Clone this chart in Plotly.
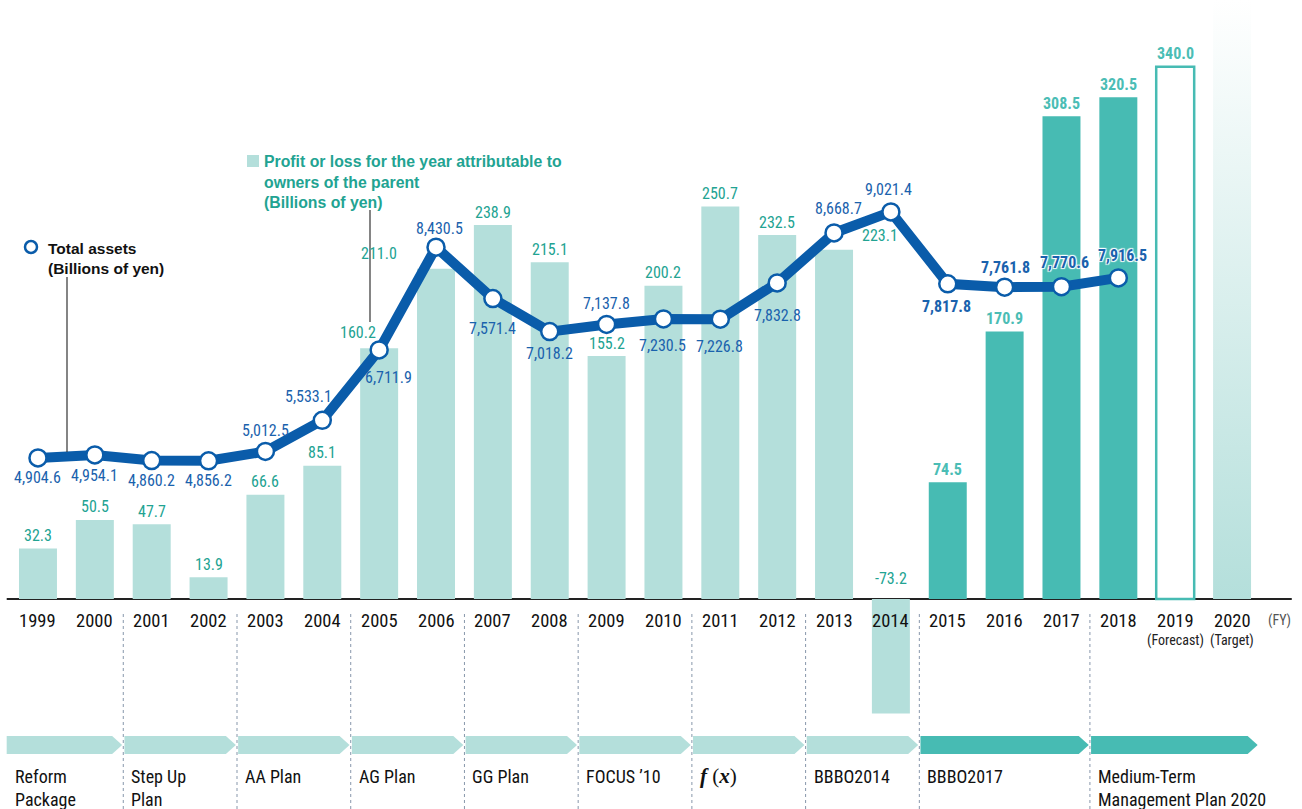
import plotly.graph_objects as go

# ---- data -------------------------------------------------------------
years = ["1999", "2000", "2001", "2002", "2003", "2004", "2005", "2006",
         "2007", "2008", "2009", "2010", "2011", "2012", "2013", "2014",
         "2015", "2016", "2017", "2018", "2019", "2020"]
year_notes = {"2019": "(Forecast)", "2020": "(Target)"}

# Profit or loss attributable to owners of the parent (billions of yen), FY1999-FY2019
profit = [32.3, 50.5, 47.7, 13.9, 66.6, 85.1, 160.2, 211.0, 238.9, 215.1,
          155.2, 200.2, 250.7, 232.5, 223.1, -73.2, 74.5, 170.9, 308.5,
          320.5, 340.0]
profit_labels = ["32.3", "50.5", "47.7", "13.9", "66.6", "85.1", "160.2",
                 "211.0", "238.9", "215.1", "155.2", "200.2", "250.7",
                 "232.5", "223.1", "-73.2", "74.5", "170.9", "308.5",
                 "320.5", "340.0"]

# Total assets (billions of yen), FY1999-FY2018
assets = [4904.6, 4954.1, 4860.2, 4856.2, 5012.5, 5533.1, 6711.9, 8430.5,
          7571.4, 7018.2, 7137.8, 7230.5, 7226.8, 7832.8, 8668.7, 9021.4,
          7817.8, 7761.8, 7770.6, 7916.5]
assets_labels = ["4,904.6", "4,954.1", "4,860.2", "4,856.2", "5,012.5",
                 "5,533.1", "6,711.9", "8,430.5", "7,571.4", "7,018.2",
                 "7,137.8", "7,230.5", "7,226.8", "7,832.8", "8,668.7",
                 "9,021.4", "7,817.8", "7,761.8", "7,770.6", "7,916.5"]

# Management plans: name, first and last fiscal year index covered
plans = ["Reform<br>Package", "Step Up<br>Plan", "AA Plan", "AG Plan",
         "GG Plan", "FOCUS \u201910",
         "<b><i>f</i></b> (<b><i>x</i></b>)",
         "BBBO2014", "BBBO2017", "Medium-Term<br>Management Plan 2020"]
plan_start = [0, 2, 4, 6, 8, 10, 12, 14, 16, 19]
plan_end = [1, 3, 5, 7, 9, 11, 13, 15, 18, 21]

# ---- styles -----------------------------------------------------------
LIGHT = "#b4dfdb"
DARK = "#47bbb3"
LABEL_LIGHT = "#22a392"
LABEL_DARK = "#4bbdb5"
BLUE = "#0a5caa"
BLUE_TXT = "#1a62ad"
COND = "Roboto Condensed, DejaVu Sans Condensed, Liberation Sans Narrow, Arial Narrow, sans-serif"
BOLD = "Liberation Sans, Arial, Helvetica, sans-serif"
SERIF = "Liberation Serif, DejaVu Serif, serif"
BAR_W = 0.668

n_dark_from = years.index("2015")
forecast_i = years.index("2019")
target_i = years.index("2020")

# label offsets in pixels (dx, dy) for each series
profit_off = [(0, 13)] * len(profit)
profit_off[6] = (-21, 16)
profit_off[7] = (-57, 15)
profit_off[14] = (46, 14)
assets_off = [(0, -20), (0, -21), (0, -20), (0, -20), (0, 21), (-14, 24),
              (9, -28), (3, 19), (0, -30), (0, -22), (0, 21), (-1, -27),
              (-1, -27), (0, -33), (4, 24), (-2, 22), (-1, -23), (1, 20),
              (3, 24), (4, 22)]

fig = go.Figure()

# ---- bars -------------------------------------------------------------
xs = list(range(len(profit)))
fill_cols, line_cols = [], []
for i in xs:
    if i == forecast_i:
        fill_cols.append("#ffffff")
        line_cols.append(DARK)
    elif i >= n_dark_from:
        fill_cols.append(DARK)
        line_cols.append(DARK)
    else:
        fill_cols.append(LIGHT)
        line_cols.append(LIGHT)
line_w = [2.5 if i == forecast_i else 0 for i in xs]

fig.add_trace(go.Bar(
    x=xs, y=profit, width=BAR_W,
    marker=dict(color=fill_cols, line=dict(color=line_cols, width=line_w)),
    hoverinfo="skip",
))

# target column drawn as a vertical fade up to the top of the chart
Y1_RANGE = [-134.2, 382.7]
tx0, tx1 = target_i - BAR_W / 2, target_i + BAR_W / 2
fig.add_trace(go.Scatter(
    x=[tx0, tx1, tx1, tx0, tx0],
    y=[0, 0, Y1_RANGE[1], Y1_RANGE[1], 0],
    mode="lines", line=dict(width=0), fill="toself",
    fillgradient=dict(type="vertical",
                      colorscale=[[0, LIGHT], [1, "#ffffff"]]),
    hoverinfo="skip",
))

# ---- total assets line -----------------------------------------------
fig.add_trace(go.Scatter(
    x=list(range(len(assets))), y=assets, yaxis="y2",
    mode="lines+markers",
    line=dict(color=BLUE, width=10),
    marker=dict(size=17, color="#ffffff", line=dict(color=BLUE, width=2.5)),
    hoverinfo="skip",
))

ann = []
# bar value labels
for i, (v, t) in enumerate(zip(profit, profit_labels)):
    dx, dy = profit_off[i]
    dark = i >= n_dark_from
    y = v if v > 0 else 0
    if v < 0:
        dy = 20
    ann.append(dict(
        x=i, y=y, xref="x", yref="y", text=("<b>%s</b>" % t) if dark else t,
        showarrow=False, xshift=dx, yshift=dy,
        font=dict(family=COND, size=16,
                  color=LABEL_DARK if dark else LABEL_LIGHT)))

# total assets labels
HALO = "1px 1px 1px #fff, -1px -1px 1px #fff, 1px -1px 1px #fff, -1px 1px 1px #fff"
for i, (v, t) in enumerate(zip(assets, assets_labels)):
    dx, dy = assets_off[i]
    bold = i >= n_dark_from
    ann.append(dict(
        x=i, y=v, xref="x", yref="y2", text=("<b>%s</b>" % t) if bold else t,
        showarrow=False, xshift=dx, yshift=dy,
        font=dict(family=COND, size=16, color=BLUE_TXT,
                  shadow=HALO if i >= 17 else "none")))

# year labels under the axis
for i, yr in enumerate(years):
    ann.append(dict(x=i, y=0, xref="x", yref="y", text=yr, showarrow=False,
                    yshift=-22, font=dict(family=COND, size=18.5, color="#111")))
    if yr in year_notes:
        ann.append(dict(x=i, y=0, xref="x", yref="y", text=year_notes[yr],
                        showarrow=False, yshift=-42,
                        font=dict(family=COND, size=14, color="#222")))
ann.append(dict(x=len(years) - 0.4, y=0, xref="x", yref="y", text="(FY)",
                showarrow=False, yshift=-22, xanchor="left",
                font=dict(family=COND, size=14, color="#555")))

# legend texts
ann.append(dict(x=46 / 1302, y=1 - 238 / 809, xref="paper", yref="paper",
                xanchor="left", yanchor="top", align="left", showarrow=False,
                text="<b>Total assets<br>(Billions of yen)</b>",
                font=dict(family=BOLD, size=15.5, color="#111")))
ann.append(dict(x=262 / 1302, y=1 - 151 / 809, xref="paper", yref="paper",
                xanchor="left", yanchor="top", align="left", showarrow=False,
                text="<b>Profit or loss for the year attributable to<br>owners of the parent<br>(Billions of yen)</b>",
                font=dict(family=BOLD, size=15.8, color=LABEL_LIGHT)))

# plan names
for name, s in zip(plans, plan_start):
    x0 = -0.55 if s == 0 else s - 0.5
    serif = "<i>" in name
    ann.append(dict(x=x0, y=1 - (762 if serif else 764) / 809, xref="x",
                    yref="paper", xanchor="left", yanchor="top", align="left",
                    xshift=6, showarrow=False, text=name,
                    font=dict(family=SERIF if serif else COND,
                              size=21 if serif else 18, color="#111")))

shapes = []
# baseline
shapes.append(dict(type="line", xref="x", yref="y", x0=-0.55, x1=22.05,
                   y0=0, y1=0, line=dict(color="#222", width=2), layer="below"))

# plan separators and arrows
AR_TOP, AR_BOT = 1 - 736 / 809, 1 - 754 / 809
tip = 10 / 56.86
for k, (s, e) in enumerate(zip(plan_start, plan_end)):
    x0 = -0.55 if s == 0 else s - 0.5
    x1 = e + 0.5 if e < len(years) - 1 else e + 0.45
    col = DARK if s >= n_dark_from else LIGHT
    if s > 0:
        shapes.append(dict(type="line", xref="x", yref="paper", x0=x0, x1=x0,
                           y0=0, y1=1 - 612 / 809,
                           line=dict(color="#8797ab", width=1, dash="dot")))
    xa = x0 + 0.02 if s > 0 else x0
    xb = x1 - 0.02 if e < len(years) - 1 else x1
    ym = (AR_TOP + AR_BOT) / 2
    path = (f"M {xa},{AR_BOT} L {xb - tip},{AR_BOT} L {xb},{ym} "
            f"L {xb - tip},{AR_TOP} L {xa},{AR_TOP} Z")
    shapes.append(dict(type="path", xref="x", yref="paper", path=path,
                       fillcolor=col, line=dict(width=0)))

# legend symbols and leader lines
shapes.append(dict(type="circle", xref="paper", yref="paper",
                   xsizemode="pixel", ysizemode="pixel",
                   xanchor=31 / 1302, yanchor=1 - 247 / 809,
                   x0=-6, x1=6, y0=-6, y1=6,
                   fillcolor="#fff", line=dict(color=BLUE, width=2.5)))
shapes.append(dict(type="rect", xref="paper", yref="paper",
                   x0=247 / 1302, x1=259 / 1302, y0=1 - 167 / 809,
                   y1=1 - 155 / 809, fillcolor=LIGHT, line=dict(width=0)))
shapes.append(dict(type="line", xref="paper", yref="paper",
                   x0=67 / 1302, x1=67 / 1302, y0=1 - 277 / 809,
                   y1=1 - 452 / 809, line=dict(color="#333", width=1.2)))
shapes.append(dict(type="line", xref="paper", yref="paper",
                   x0=370 / 1302, x1=370 / 1302, y0=1 - 210 / 809,
                   y1=1 - 322 / 809, line=dict(color="#333", width=1.2)))

fig.update_layout(
    width=1302, height=809,
    margin=dict(l=0, r=0, t=0, b=0),
    paper_bgcolor="#ffffff", plot_bgcolor="#ffffff",
    showlegend=False, barmode="overlay",
    xaxis=dict(range=[-0.668, 22.23], visible=False, fixedrange=True),
    yaxis=dict(range=Y1_RANGE, visible=False, fixedrange=True),
    yaxis2=dict(range=[-970.6, 12567], visible=False, overlaying="y",
                fixedrange=True),
    annotations=ann, shapes=shapes,
)

fig.write_html("out.html")
